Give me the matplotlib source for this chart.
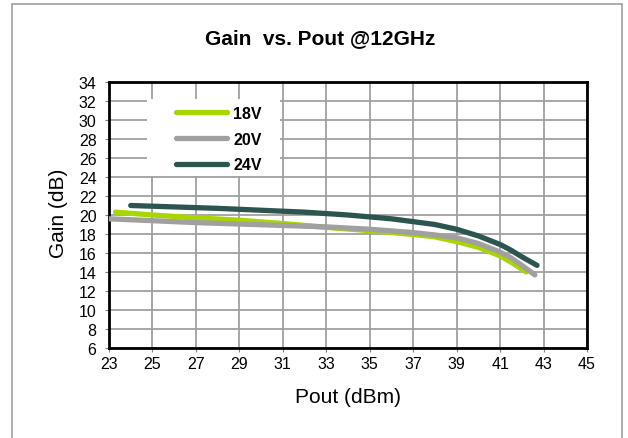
import matplotlib
matplotlib.use("Agg")
import matplotlib.pyplot as plt
from matplotlib.patches import Rectangle

plt.rcParams['font.family'] = ['Liberation Sans', 'DejaVu Sans']

title = "Gain  vs. Pout @12GHz"
xlabel = "Pout (dBm)"
ylabel = "Gain (dB)"
series_names = ["18V", "20V", "24V"]

pout_18 = [23.3, 25, 27, 29, 31, 33, 35, 37, 38, 39, 40, 41, 41.6, 42.2]
gain_18 = [20.3, 20.0, 19.7, 19.45, 19.1, 18.7, 18.35, 17.95, 17.7, 17.2, 16.6, 15.7, 14.9, 14.0]

pout_20 = [23.0, 25, 27, 29, 31, 33, 35, 37, 38, 39, 40, 41, 41.5, 42.0, 42.6]
gain_20 = [19.6, 19.4, 19.2, 19.05, 18.9, 18.75, 18.5, 18.15, 17.9, 17.6, 17.0, 16.1, 15.5, 14.7, 13.7]

pout_24 = [24.0, 26, 28, 30, 32, 34, 36, 37, 38, 39, 40, 41, 41.5, 42.0, 42.7]
gain_24 = [21.0, 20.85, 20.7, 20.5, 20.3, 20.0, 19.6, 19.3, 19.0, 18.5, 17.8, 16.9, 16.3, 15.6, 14.7]

xticks = list(range(23, 46, 2))
yticks = list(range(6, 35, 2))

colors = ["#A8D600", "#A0A0A0", "#2D5550"]

fig = plt.figure(figsize=(6.28, 4.39), dpi=100)
# outer chart border
fig.patches.append(Rectangle((12/628, -0.05), (622-12)/628, 1.05 - 5/439,
                             transform=fig.transFigure, fill=False,
                             edgecolor="#A0A0A0", linewidth=1.2))

ax = fig.add_axes([109/628, 1 - 349/439, (587-109)/628, (349-83)/439])
for xs, ys, c, n in zip([pout_18, pout_20, pout_24], [gain_18, gain_20, gain_24], colors, series_names):
    ax.plot(xs, ys, color=c, linewidth=3.8, solid_capstyle='round',
            solid_joinstyle='round', label=n, zorder=3)

ax.set_xlim(23, 45)
ax.set_ylim(6, 34)
ax.set_xticks(xticks)
ax.set_yticks(yticks)
ax.grid(True, color="#A0A0A0", linewidth=1.3, zorder=1)
ax.set_axisbelow(True)
for s in ax.spines.values():
    s.set_color("black")
    s.set_linewidth(2.0)
ax.tick_params(axis='both', labelsize=11.5, length=3, width=0.8, color="#808080")
ax.tick_params(axis='x', pad=3)
ax.tick_params(axis='y', pad=6)

fig.text(320/628, 1 - 39/439, title, fontsize=15, fontweight='bold',
         ha='center', va='center')
ax.set_xlabel(xlabel, fontsize=15)
ax.xaxis.set_label_coords(0.5, (349-398)/266)
ax.xaxis.label.set_va('center')
ax.set_ylabel(ylabel, fontsize=15)
ax.yaxis.set_label_coords((58-109)/478, (349-213)/266)
ax.yaxis.label.set_va('center')

# white legend background
ax.add_patch(Rectangle(((147-109)/478, (349-177)/266), (280-147)/478, (177-100)/266,
                       transform=ax.transAxes, facecolor='white', edgecolor='none',
                       zorder=2))

leg = ax.legend(loc='upper left', bbox_to_anchor=(0.126, 0.935), frameon=False,
                borderaxespad=0, prop={'weight': 'bold', 'size': 11.5},
                handlelength=3.2, handletextpad=0.4, labelspacing=0.68,
                borderpad=0.4)
leg.set_zorder(4)

fig.savefig("out.png", dpi=100)
